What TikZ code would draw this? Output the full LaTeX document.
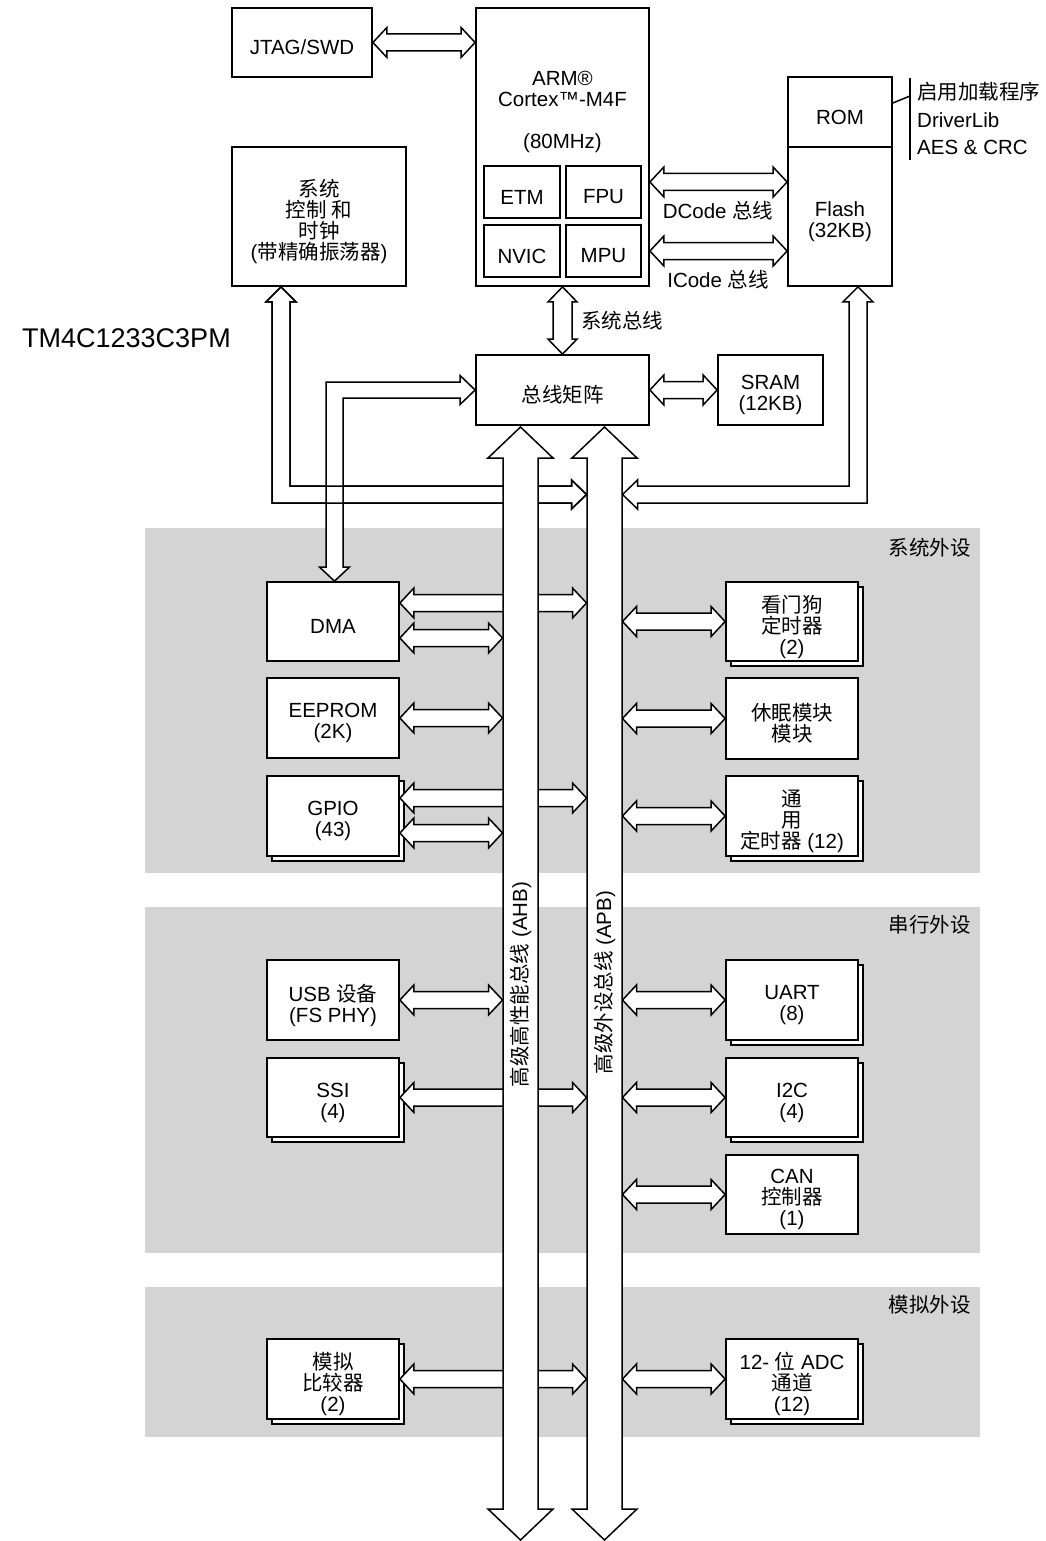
\documentclass[tikz,border=0pt]{standalone}
\usepackage{fontspec}
\setmainfont{Liberation Sans}
\newfontfamily\cjk{Noto Sans CJK SC}
\usetikzlibrary{calc,shadows}
\definecolor{panel}{RGB}{212,212,212}
\newcommand\zh[1]{{\cjk #1}}
\newcommand\arHL{14pt}
\newcommand\arHW{15pt}
\newcommand\arSW{8.5pt}
% horizontal double block arrow: y of #1, x of #1 and #2
\newcommand\hdbl[2]{\path[arr] let \p1=(#1),\p2=(#2) in
 (\x1,\y1) -- (\x1+\arHL,\y1+\arHW) -- (\x1+\arHL,\y1+\arSW) -- (\x2-\arHL,\y1+\arSW) -- (\x2-\arHL,\y1+\arHW) -- (\x2,\y1) -- (\x2-\arHL,\y1-\arHW) -- (\x2-\arHL,\y1-\arSW) -- (\x1+\arHL,\y1-\arSW) -- (\x1+\arHL,\y1-\arHW) -- cycle;}
% vertical double block arrow: top #1, bottom #2, head length #3, head half width #4, shaft half width #5
\newcommand\vdbl[5]{\path[arr] let \p1=(#1),\p2=(#2) in
 (\x1,\y1) -- (\x1+#4,\y1-#3) -- (\x1+#5,\y1-#3) -- (\x1+#5,\y2+#3) -- (\x1+#4,\y2+#3) -- (\x1,\y2) -- (\x1-#4,\y2+#3) -- (\x1-#5,\y2+#3) -- (\x1-#5,\y1-#3) -- (\x1-#4,\y1-#3) -- cycle;}
\newcommand\sysL[1]{\path[#1] let \p1=($(sysctl.south)+(-38,0)$), \p2=(apbW |- hbus) in
 (\x1,\y1) -- (\x1+15pt,\y1-15pt) -- (\x1+9pt,\y1-15pt) -- (\x1+9pt,\y2+8.5pt) -- (\x2-15pt,\y2+8.5pt) -- (\x2-15pt,\y2+14.5pt) -- (\x2,\y2) -- (\x2-15pt,\y2-14.5pt) -- (\x2-15pt,\y2-8.5pt) -- (\x1-9pt,\y2-8.5pt) -- (\x1-9pt,\y1-15pt) -- (\x1-15pt,\y1-15pt) -- cycle;}
\newcommand\dmaL[1]{\path[#1] let \p1=(busmat.west), \p2=($(dma.north)+(1.5,0)$) in
 (\x1,\y1) -- (\x1-15pt,\y1+14.5pt) -- (\x1-15pt,\y1+8pt) -- (\x2-8.5pt,\y1+8pt) -- (\x2-8.5pt,\y2+14pt) -- (\x2-15pt,\y2+14pt) -- (\x2,\y2) -- (\x2+15pt,\y2+14pt) -- (\x2+8.5pt,\y2+14pt) -- (\x2+8.5pt,\y1-8pt) -- (\x1-15pt,\y1-8pt) -- (\x1-15pt,\y1-14.5pt) -- cycle;}
\tikzset{
 base/.style={font=\fontsize{20.5}{21}\selectfont, inner sep=0pt},
 lbl/.style={base, align=center},
 boxtxt/.style={lbl, yshift=-5pt},
 btxt/.style={label={[boxtxt]center:{#1}}},
 box/.style={base, draw, line width=1.8pt, fill=white, align=center, minimum width=132pt, minimum height=79pt},
 sbox/.style={box, copy shadow={shadow xshift=5pt, shadow yshift=-5pt}},
 arr/.style={draw, line width=1.5pt, fill=white, line join=miter},
 arrline/.style={draw, line width=1.5pt, line join=miter},
 thinline/.style={line width=1.5pt},
}
\begin{document}
\begin{tikzpicture}[x=1pt,y=-1pt]
\useasboundingbox (0,0) rectangle (1045,1541);
% panels
\fill[panel] (145,528) rectangle (980,873);
\fill[panel] (145,907) rectangle (980,1253);
\fill[panel] (145,1287) rectangle (980,1437);
\node[lbl, anchor=east] (psys) at (971,548) {\zh{系统外设}};
\node[lbl, anchor=east] (pser) at (971,925) {\zh{串行外设}};
\node[lbl, anchor=east] (pana) at (971,1305) {\zh{模拟外设}};
% chip name
\node[base, anchor=west, font=\fontsize{27}{28}\selectfont] (chip) at (22,338) {TM4C1233C3PM};
% top blocks
\node[box, minimum width=140pt, minimum height=69pt, btxt={JTAG/SWD}] (jtag) at (302,42.5) {};
\node[box, minimum width=174pt, minimum height=139pt, btxt={\zh{系统}\\\zh{控制 和}\\\zh{时钟}\\(\zh{带精确振荡器})}] (sysctl) at (319,216.5) {};
\node[box, minimum width=173pt, minimum height=278pt] (cpu) at (562.5,147) {};
\node[lbl] (cpuname) at (562.5,88.5) {ARM®\\Cortex™-M4F};
\node[lbl] (cpufreq) at (562.5,143) {(80MHz)};
\node[box, minimum width=76pt, minimum height=52pt, btxt={ETM}] (etm) at (522,192) {};
\node[box, minimum width=75pt, minimum height=52pt, btxt={FPU}] (fpu) at (603.5,192) {};
\node[box, minimum width=76pt, minimum height=52pt, btxt={NVIC}] (nvic) at (522,251) {};
\node[box, minimum width=75pt, minimum height=52pt, btxt={MPU}] (mpu) at (603.5,251) {};
\node[box, minimum width=104pt, minimum height=70pt, btxt={ROM}] (rom) at (840,112) {};
\node[box, minimum width=104pt, minimum height=139pt, btxt={Flash\\(32KB)}] (flash) at (840,216.5) {};
\coordinate (brk) at (910,96);
\coordinate (brkT) at (910,78);
\coordinate (brkB) at (910,160);
\draw[thinline] ($(rom.east)+(0,-9)$) -- (brk);
\draw[thinline] (brkT) -- (brkB);
\node[lbl, anchor=base west] (rom1) at (917,99.5) {\zh{启用加载程序}};
\node[lbl, anchor=base west] (rom2) at (917,127.5) {DriverLib};
\node[lbl, anchor=base west] (rom3) at (917,154.5) {AES \& CRC};
\node[box, minimum width=173pt, minimum height=70pt, btxt={\zh{总线矩阵}}] (busmat) at (562.5,390) {};
\node[box, minimum width=105pt, minimum height=70pt, btxt={SRAM\\(12KB)}] (sram) at (770.5,390) {};
\node[lbl] (dcl) at (718,211) {DCode \zh{总线}};
\node[lbl] (icl) at (718,280) {ICode \zh{总线}};
\node[lbl] (sbl) at (622,321) {\zh{系统总线}};
% peripheral blocks, left
\node[box, btxt={DMA}] (dma) at (333,621.5) {};
\node[box, minimum height=80pt, btxt={EEPROM\\(2K)}] (eeprom) at (333,718) {};
\node[sbox, minimum height=80pt, btxt={GPIO\\(43)}] (gpio) at (333,816) {};
\node[box, minimum height=80pt, btxt={USB \zh{设备}\\(FS PHY)}] (usb) at (333,1000) {};
\node[sbox, btxt={SSI\\(4)}] (ssi) at (333,1097.5) {};
\node[sbox, minimum height=80pt, btxt={\zh{模拟}\\\zh{比较器}\\(2)}] (comp) at (333,1379) {};
% peripheral blocks, right
\node[sbox, btxt={\zh{看门狗}\\\zh{定时器}\\(2)}] (wdt) at (792,621.5) {};
\node[box, minimum height=81pt, btxt={\zh{休眠模块}\\\zh{模块}}] (hib) at (792,718.5) {};
\node[sbox, minimum height=80pt, btxt={\zh{通}\\\zh{用}\\\zh{定时器} (12)}] (timer) at (792,816) {};
\node[sbox, minimum height=80pt, btxt={UART\\(8)}] (uart) at (792,1000) {};
\node[sbox, btxt={I2C\\(4)}] (i2c) at (792,1097.5) {};
\node[box, btxt={CAN\\\zh{控制器}\\(1)}] (can) at (792,1194.5) {};
\node[sbox, minimum height=80pt, btxt={12- \zh{位} ADC\\\zh{通道}\\(12)}] (adc) at (792,1379) {};
% bus coordinates
\coordinate (ahbT) at (520.5,427);
\coordinate (ahbB) at (520.5,1540);
\coordinate (apbT) at (604.5,427);
\coordinate (apbB) at (604.5,1540);
\coordinate (ahbW) at (502.5,0);
\coordinate (apbW) at (586.5,0);
\coordinate (apbE) at (622.5,0);
\coordinate (hbus) at (0,494.5);
% top arrows
\hdbl{jtag.east}{cpu.west}
\hdbl{$(cpu.east)+(0,35)$}{flash.west}
\hdbl{$(cpu.east)+(0,104)$}{flash.west}
\hdbl{busmat.east}{sram.west}
\vdbl{cpu.south}{busmat.north}{15pt}{14.5pt}{9.5pt}
% L-shaped arrows
\sysL{arr}
\dmaL{arr}
\sysL{arrline}
\path[arr] let \p1=($(flash.south)+(18,0)$), \p2=(apbE |- hbus) in
 (\x1,\y1) -- (\x1+15pt,\y1-15pt) -- (\x1+9pt,\y1-15pt) -- (\x1+9pt,\y2-8.5pt) -- (\x2+15pt,\y2-8.5pt) -- (\x2+15pt,\y2-14.5pt) -- (\x2,\y2) -- (\x2+15pt,\y2+14.5pt) -- (\x2+15pt,\y2+8.5pt) -- (\x1-9pt,\y2+8.5pt) -- (\x1-9pt,\y1-15pt) -- (\x1-15pt,\y1-15pt) -- cycle;
% left peripheral arrows
\hdbl{$(dma.east)+(0,-18.5)$}{apbW}
\hdbl{$(dma.east)+(0,16.5)$}{ahbW}
\hdbl{eeprom.east}{ahbW}
\hdbl{$(gpio.east)+(0,-18)$}{apbW}
\hdbl{$(gpio.east)+(0,17)$}{ahbW}
\hdbl{usb.east}{ahbW}
\hdbl{ssi.east}{apbW}
\hdbl{comp.east}{apbW}
% right peripheral arrows
\hdbl{apbE |- wdt.west}{wdt.west}
\hdbl{apbE |- hib.west}{hib.west}
\hdbl{apbE |- timer.west}{timer.west}
\hdbl{apbE |- uart.west}{uart.west}
\hdbl{apbE |- i2c.west}{i2c.west}
\hdbl{apbE |- can.west}{can.west}
\hdbl{apbE |- adc.west}{adc.west}
% buses
\vdbl{ahbT}{ahbB}{31pt}{32.5pt}{17.5pt}
\vdbl{apbT}{apbB}{31pt}{32.5pt}{17.5pt}
\node[lbl, rotate=90] (ahb) at (520.5,984.5) {\zh{高级高性能总线} (AHB)};
\node[lbl, rotate=90] (apb) at (604.5,982.5) {\zh{高级外设总线} (APB)};
\end{tikzpicture}
\end{document}
